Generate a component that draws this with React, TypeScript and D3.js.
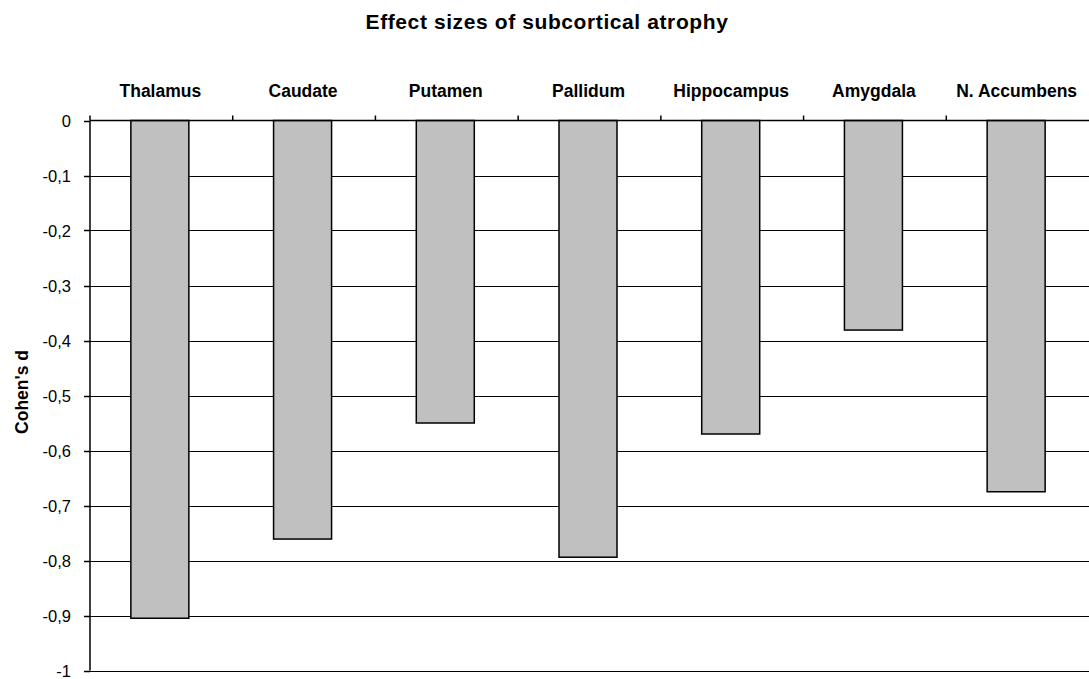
import React from "react";
import * as d3 from "d3";

const categories = ["Thalamus", "Caudate", "Putamen", "Pallidum", "Hippocampus", "Amygdala", "N. Accumbens"];
const values = [-0.905, -0.761, -0.55, -0.794, -0.57, -0.381, -0.675];
const yTicks = [0, -0.1, -0.2, -0.3, -0.4, -0.5, -0.6, -0.7, -0.8, -0.9, -1];

const W = 1089;
const H = 679;
const left = 90;
const right = 1089;
const top = 120.5;
const bottom = 670.5;
const font = "Arial, 'Liberation Sans', sans-serif";

export default function App() {
  const x = d3.scaleBand<string>().domain(categories).range([left, right]).paddingInner(0).paddingOuter(0);
  const y = d3.scaleLinear().domain([0, -1]).range([top, bottom]);
  const bw = 58;
  const fmt = (v: number) => (v === 0 ? "0" : v === -1 ? "-1" : d3.format(".1f")(v).replace(".", ",").replace("−", "-"));
  return (
    <svg width={W} height={H} style={{ position: "absolute", left: 0, top: 0, background: "#fff" }}>
      <text x={547} y={29} textAnchor="middle" fontFamily={font} fontWeight="bold" fontSize={21} letterSpacing={0.6} fill="#000">
        Effect sizes of subcortical atrophy
      </text>
      {yTicks.slice(1).map((t) => (
        <line key={"g" + t} x1={left} x2={right} y1={Math.round(y(t)) + 0.5} y2={Math.round(y(t)) + 0.5} stroke="#000" strokeWidth={1} />
      ))}
      {categories.map((c, i) => {
        const cx = x(c)! + x.bandwidth() / 2 - 1.5;
        const v = values[i];
        return (
          <rect key={c} x={cx - bw / 2} y={y(0)} width={bw} height={y(v) - y(0)} fill="#c0c0c0" stroke="#000" strokeWidth={1.5} />
        );
      })}
      <line x1={left} x2={left} y1={top} y2={bottom} stroke="#000" strokeWidth={1.5} />
      <line x1={left} x2={right} y1={top} y2={top} stroke="#000" strokeWidth={1.5} />
      {yTicks.map((t) => (
        <g key={"t" + t}>
          <line x1={left - 6} x2={left} y1={Math.round(y(t)) + 0.5} y2={Math.round(y(t)) + 0.5} stroke="#000" strokeWidth={1.5} />
          <text x={71} y={y(t) + 6} textAnchor="end" fontFamily={font} fontSize={16.5} fill="#000">
            {fmt(t)}
          </text>
        </g>
      ))}
      {categories.map((c) => (
        <line key={"ct" + c} x1={x(c)!} x2={x(c)!} y1={top} y2={top - 5} stroke="#000" strokeWidth={1.5} />
      ))}
      {categories.map((c) => (
        <text key={"l" + c} x={x(c)! + x.bandwidth() / 2 - 1} y={97} textAnchor="middle" fontFamily={font} fontWeight="bold" fontSize={17.5} fill="#000">
          {c}
        </text>
      ))}
      <text transform={`translate(28, 392) rotate(-90)`} textAnchor="middle" fontFamily={font} fontWeight="bold" fontSize={17.5} fill="#000">
        Cohen's d
      </text>
    </svg>
  );
}
